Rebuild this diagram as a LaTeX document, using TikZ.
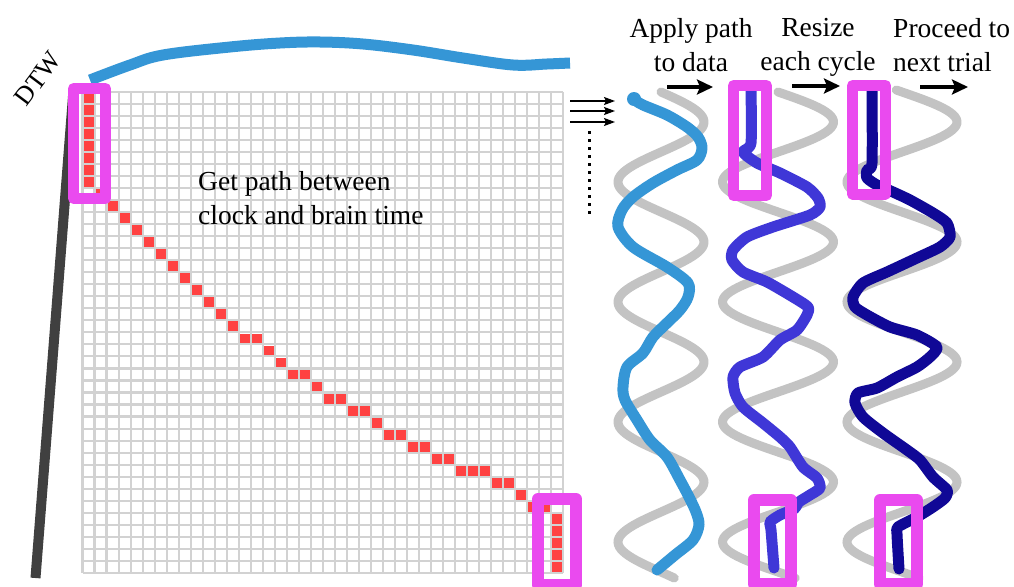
\documentclass[tikz,border=0pt]{standalone}
\usepackage{fontspec}
\setmainfont{Liberation Serif}
\usetikzlibrary{arrows.meta}
\definecolor{gridc}{RGB}{210,210,210}
\definecolor{pathred}{RGB}{255,66,66}
\definecolor{mag}{RGB}{234,74,239}
\definecolor{blueA}{RGB}{53,150,214}
\definecolor{blueB}{RGB}{63,55,215}
\definecolor{blueC}{RGB}{16,8,150}
\definecolor{wavec}{RGB}{195,195,195}
\definecolor{axisc}{RGB}{64,64,64}
\newcommand\pcell[2]{\fill[pathred] ({82.5+12.02*#1+1.1},{92+12.02*#2+1.1}) rectangle ++(9.9,9.9);}
\begin{document}
\begin{tikzpicture}[x=1pt,y=-1pt,
  gridline/.style={draw=gridc, line width=2.1pt},
  magbox/.style={draw=mag, line width=11pt, line join=round},
  wave/.style={draw=wavec, line width=9pt, line cap=round},
  trace/.style={line width=11pt, line cap=round, line join=round},
  lab/.style={font=\fontsize{27.5}{34}\selectfont, inner sep=0pt},
  bigarrow/.style={line width=3.2pt, -{Stealth[length=16pt,width=15pt,inset=3pt]}},
  smallarrow/.style={line width=1.4pt, -{Stealth[length=11pt,width=8pt,inset=2pt]}},
]
\useasboundingbox (0,0) rectangle (1014,586);
\fill[white] (0,0) rectangle (1014,586);

% grid
\foreach \i in {0,...,40}{
  \draw[gridline] ({82.5+12.02*\i},92) -- ({82.5+12.02*\i},{92+12.02*40});
  \draw[gridline] (82.5,{92+12.02*\i}) -- ({82.5+12.02*40},{92+12.02*\i});
}
% warping path cells
\foreach \c/\r in {0/0,0/1,0/2,0/3,0/4,0/5,0/6,0/7,1/8,2/9,3/10,4/11,5/12,6/13,7/14,8/15,9/16,10/17,11/18,12/19,
  13/20,14/20,15/21,16/22,17/23,18/23,19/24,20/25,21/25,22/26,23/26,24/27,25/28,26/28,27/29,28/29,29/30,30/30,
  31/31,32/31,33/31,34/32,35/32,36/33,37/34,38/34,39/35,39/36,39/37,39/38,39/39}{\pcell{\c}{\r}}

% time axes
\draw[line width=10pt, axisc] (73.5,90) -- (35.5,578);
\draw[blueA, line width=11pt] plot[smooth, tension=0.6] coordinates {(90,80) (130,65) (163,55) (230,47) (280,43) (320,42) (363,44) (413,50) (463,58) (513,65) (547,64) (570,63)};

% text
\node[lab, font=\fontsize{26}{30}\selectfont, rotate=53] (dtw) at (38,79) {DTW};
\node[lab, align=left, anchor=north west] (getpath) at (198,171) {Get path between\\clock and brain time};
\node[lab, align=center, anchor=north] (apply) at (691,18.5) {Apply path\\to data};
\node[lab, align=center, anchor=north] (resize) at (818,18) {Resize\\each cycle};
\node[lab, align=left, anchor=north west] (proceed) at (893,18) {Proceed to\\next trial};

% small arrows and dots
\foreach \k/\yy in {1/101,2/111,3/122}{
  \coordinate (s\k a) at (570,\yy);
  \coordinate (s\k b) at (615,\yy);
  \draw[smallarrow] (s\k a) -- (s\k b);
}
\coordinate (dotA) at (589,131);
\coordinate (dotB) at (589,217);
\draw[line width=3pt, dash pattern=on 3pt off 5pt] (dotA) -- (dotB);

% big arrows
\coordinate (b1a) at (667,87); \coordinate (b1b) at (713,87);
\coordinate (b2a) at (792,86); \coordinate (b2b) at (840,86);
\coordinate (b3a) at (920,87); \coordinate (b3b) at (968,87);
\draw[bigarrow] (b1a) -- (b1b);
\draw[bigarrow] (b2a) -- (b2b);
\draw[bigarrow] (b3a) -- (b3b);

% gray reference waves
\draw[wave] plot[domain=92:578, samples=220, variable=\t] ({661+43*sin(3*(\t-92))}, \t);
\draw[wave] plot[domain=92:578, samples=220, variable=\t] ({778+55.5*sin(3*(\t-92))}, \t);
\draw[wave] plot[domain=90:578, samples=220, variable=\t] ({902+55*sin(3*(\t-92))}, \t);

% traces
\draw[trace, blueA] plot[smooth, tension=0.5] coordinates {(633,99) (643,105) (667,115) (687,127) (698,137) (702,148) (697,160) (677,170) (653,183) (633,197) (622,210) (618,227) (633,247) (667,267) (688,283) (688,297) (680,310) (667,323) (653,337) (643,353) (627,367) (623,387) (625,400) (637,420) (650,440) (667,457) (680,480) (689,497) (696,512) (699,525) (693,540) (675,555) (657,570)};
\fill[blueA] (634,99) circle (7);

\draw[trace, blueB] plot[smooth, tension=0.4] coordinates {(751,90) (751,143) (743,152) (757,163) (780,173) (807,187) (818,198) (820,207) (810,215) (773,227) (747,237) (733,250) (732,260) (743,272) (767,282) (793,297) (808,307) (807,315) (797,330) (780,340) (763,357) (740,367) (733,377) (735,393) (743,407) (763,423) (780,437) (790,447) (803,467) (817,478) (820,488) (810,495) (799,502) (794,509) (780,515) (770,522) (771,530) (774,568)};

\draw[trace, blueC] plot[smooth, tension=0.4] coordinates {(872,90) (872,163) (867,170) (867,178) (877,185) (893,192) (910,200) (933,213) (947,223) (950,237) (940,247) (917,258) (887,272) (863,283) (853,297) (855,307) (867,315) (890,327) (917,335) (937,347) (930,357) (917,367) (897,377) (877,388) (858,393) (855,403) (863,417) (883,433) (907,450) (920,460) (933,477) (947,490) (945,498) (933,507) (917,517) (898,527) (897,534) (899,569)};

% highlight boxes
\draw[magbox] (73.5,88.5) rectangle (105.5,198.5);
\draw[magbox, line width=12pt] (538,499) rectangle (576,585);
\draw[magbox] (733.5,85.5) rectangle (766.5,195.5);
\draw[magbox] (852.5,85.5) rectangle (885.5,194);
\draw[magbox, line width=12pt] (754,500) rectangle (791,584);
\draw[magbox, line width=12pt] (880,500) rectangle (917,584);
\end{tikzpicture}
\end{document}
